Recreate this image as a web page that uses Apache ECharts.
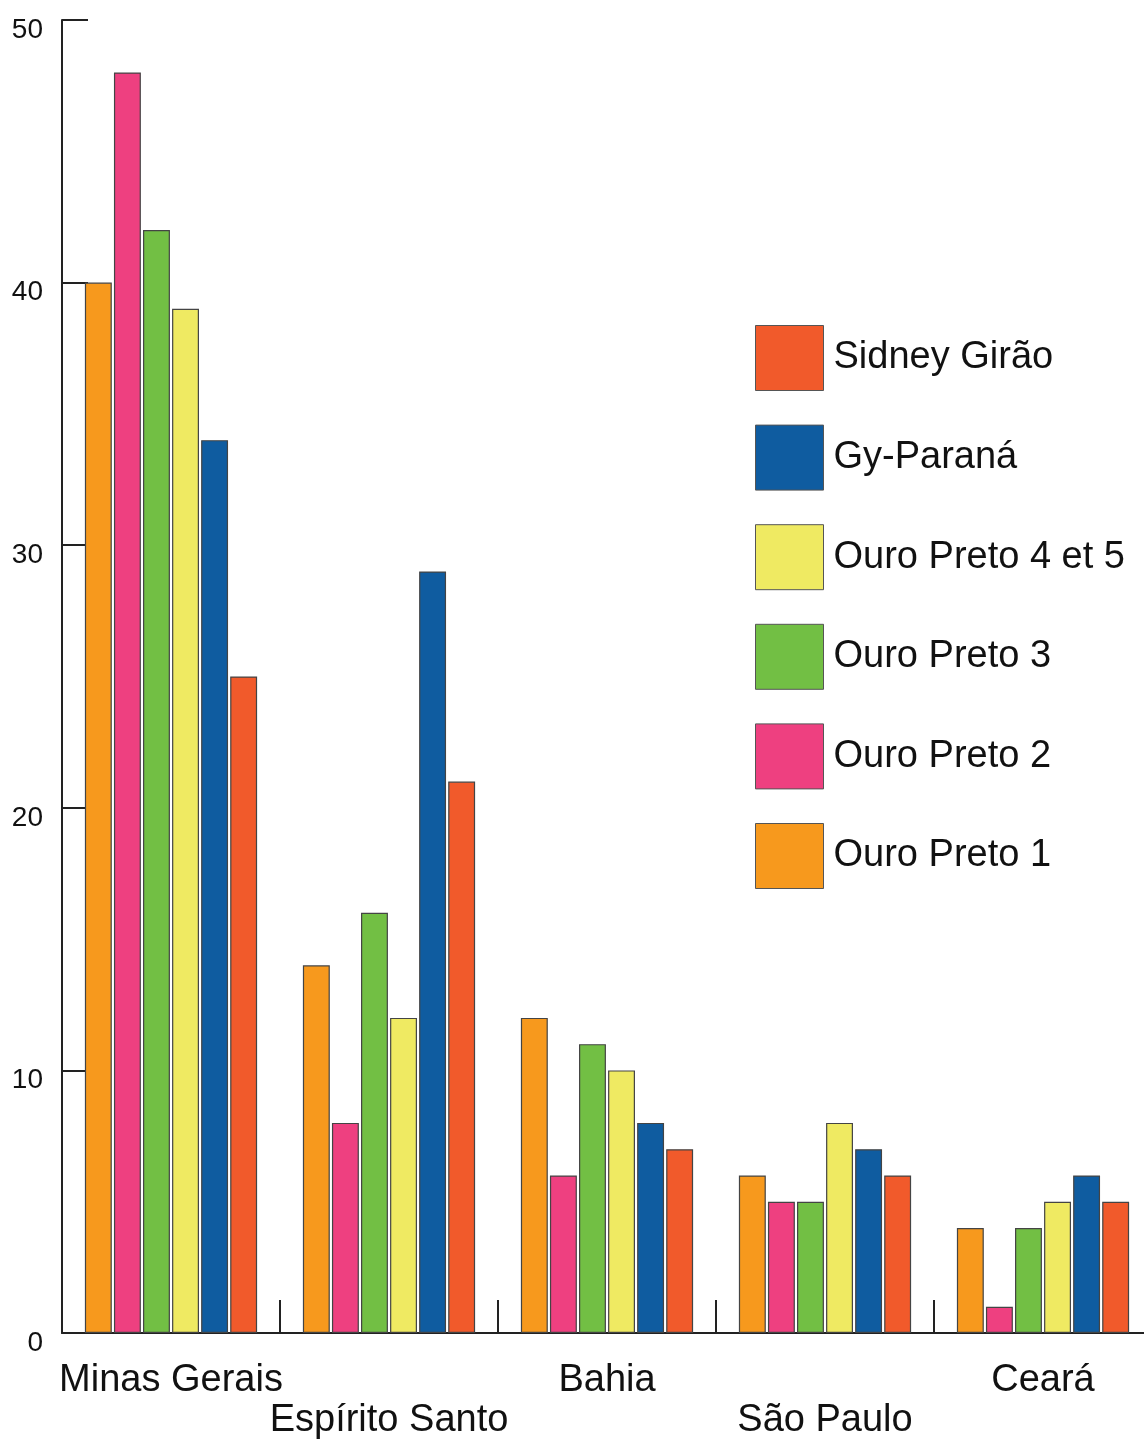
<!DOCTYPE html>
<html>
<head>
<meta charset="utf-8">
<script src="https://cdn.jsdelivr.net/npm/echarts@6/dist/echarts.min.js"></script>
<style>
  html, body { margin: 0; padding: 0; background: #fff; overflow: hidden; }
  /* the drawing surface is a little wider than the window; the axis runs off the right edge */
  #chart { width: 1152px; height: 1441px; }
</style>
</head>
<body>
<div id="chart"></div>
<script>
// States (x categories)
const states = ['Minas Gerais', 'Espírito Santo', 'Bahia', 'São Paulo', 'Ceará'];

// Values per source, one array per series, in state order
const ouroPreto1  = [40, 14, 12, 6, 4];
const ouroPreto2  = [48, 8, 6, 5, 1];
const ouroPreto3  = [42, 16, 11, 5, 4];
const ouroPreto45 = [39, 12, 10, 8, 5];
const gyParana    = [34, 29, 8, 7, 6];
const sidneyGirao = [25, 21, 7, 6, 5];

const seriesNames  = ['Ouro Preto 1', 'Ouro Preto 2', 'Ouro Preto 3', 'Ouro Preto 4 et 5', 'Gy-Paraná', 'Sidney Girão'];
const seriesValues = [ouroPreto1, ouroPreto2, ouroPreto3, ouroPreto45, gyParana, sidneyGirao];
const seriesColors = ['#F7991D', '#EE4080', '#72BF44', '#EFEA62', '#0F5CA0', '#F15A2B'];

const yTicks = { min: 0, max: 50, interval: 10 };

const font = 'Liberation Sans, Arial, Helvetica, sans-serif';

const chart = echarts.init(document.getElementById('chart'), null, { renderer: 'canvas' });

chart.setOption({
  backgroundColor: '#ffffff',
  animation: false,
  grid: { left: 62, right: 0, top: 20, bottom: 107, containLabel: false },
  legend: {
    orient: 'vertical',
    left: 755,
    top: 325,
    padding: 0,
    itemWidth: 68,
    itemHeight: 65,
    itemGap: 33.6,
    icon: 'rect',
    data: seriesNames.slice().reverse(),
    textStyle: { fontFamily: font, fontSize: 38, color: '#111', padding: [0, 0, 0, 5] },
    itemStyle: { borderColor: '#555', borderWidth: 1 }
  },
  xAxis: {
    type: 'category',
    data: states,
    axisLine: { lineStyle: { color: '#222', width: 2 } },
    axisTick: { show: true, inside: true, length: 33, alignWithLabel: false, lineStyle: { color: '#222', width: 2 } },
    axisLabel: {
      interval: 0,
      margin: 28,
      fontFamily: font,
      fontSize: 38,
      color: '#111',
      lineHeight: 40,
      verticalAlign: 'top',
      formatter: (v, i) => (i % 2 === 1 ? '\n' + v : v)
    },
    splitLine: { show: false }
  },
  yAxis: {
    type: 'value',
    min: yTicks.min,
    max: yTicks.max,
    interval: yTicks.interval,
    axisLine: { show: true, lineStyle: { color: '#222', width: 2 } },
    axisTick: { show: true, inside: true, length: 26, lineStyle: { color: '#222', width: 2 } },
    axisLabel: {
      fontFamily: font,
      fontSize: 28,
      color: '#111',
      margin: 19,
      lineHeight: 20,
      verticalAlign: 'top'
    },
    splitLine: { show: false }
  },
  series: seriesNames.map((name, i) => ({
    name: name,
    type: 'bar',
    data: seriesValues[i],
    barCategoryGap: '21%',
    barGap: '8%',
    itemStyle: { color: seriesColors[i], borderColor: '#444', borderWidth: 1.2 }
  }))
});
</script>
</body>
</html>
